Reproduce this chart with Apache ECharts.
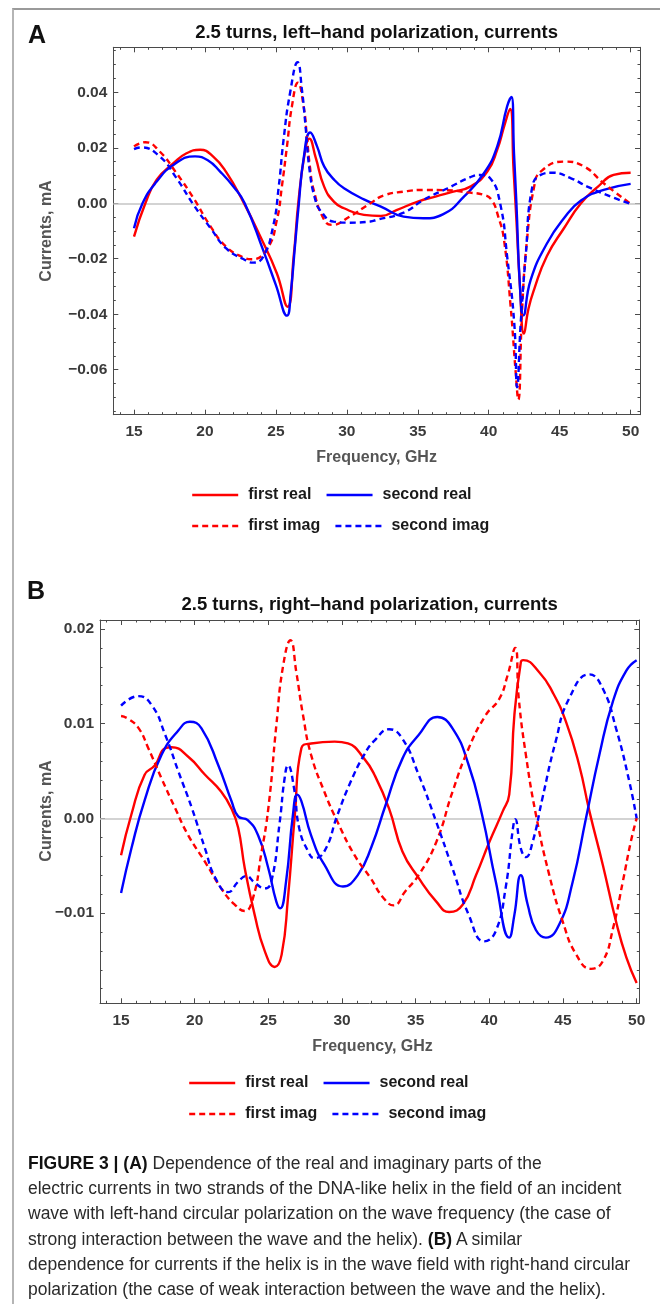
<!DOCTYPE html>
<html>
<head>
<meta charset="utf-8">
<script src="https://cdn.jsdelivr.net/npm/echarts@6/dist/echarts.min.js"></script>
<style>
  html, body { margin: 0; padding: 0; background: #fff; }
  #wrap { position: relative; width: 660px; height: 1304px; overflow: hidden; }
  #frame { position: absolute; left: 12px; top: 8px; width: 660px; height: 1310px;
           border-top: 2px solid #9a9a9a; border-left: 2px solid #b5b5b5; }
  #chart { position: absolute; left: 0; top: 0; width: 660px; height: 1304px; }
  #caption { position: absolute; left: 28px; top: 1151px; width: 625px;
             font-family: "Liberation Sans", Arial, sans-serif; font-size: 17.5px;
             line-height: 25.2px; color: #2a2a2a; white-space: nowrap; }
  #caption b { font-weight: bold; color: #111; }
</style>
</head>
<body>
<div id="wrap">
  <div id="frame"></div>
  <div id="chart"></div>
  <div id="caption">
    <div><b>FIGURE 3 | (A)</b> Dependence of the real and imaginary parts of the</div>
    <div>electric currents in two strands of the DNA-like helix in the field of an incident</div>
    <div>wave with left-hand circular polarization on the wave frequency (the case of</div>
    <div>strong interaction between the wave and the helix). <b>(B)</b> A similar</div>
    <div>dependence for currents if the helix is in the wave field with right-hand circular</div>
    <div>polarization (the case of weak interaction between the wave and the helix).</div>
  </div>
</div>
<script>
// ---------- Panel A data (frequency GHz, current mA) ----------
const aFirstReal = [[15,-0.012],[15.8,0],[16.6,0.0085],[17.8,0.0145],[18.7,0.018],[19.66,0.0193],[20.6,0.0167],[21.5,0.0112],[22.7,0.0005],[23.9,-0.012],[25.07,-0.0253],[25.82,-0.0373],[26.25,-0.0193],[26.6,0.0012],[27.07,0.0193],[27.35,0.0233],[27.8,0.0165],[28.4,0.006],[29.1,0.0005],[29.8,-0.0018],[31.2,-0.0042],[32.4,-0.0046],[33.5,-0.0025],[35,0.0006],[36.3,0.0025],[37.5,0.0042],[38.7,0.006],[39.9,0.0114],[40.6,0.0193],[41.1,0.028],[41.5,0.034],[41.75,0.012],[41.95,-0.006],[42.2,-0.03],[42.48,-0.047],[42.8,-0.038],[43.2,-0.031],[44.1,-0.019],[45.3,-0.009],[46.5,0],[47.7,0.006],[48.8,0.0102],[50,0.011]];
const aSecondReal = [[15,-0.009],[15.6,0],[16.6,0.0078],[17.8,0.0139],[19.3,0.0169],[20.2,0.0155],[21.07,0.0114],[22.0,0.006],[22.8,0],[24.1,-0.0169],[25.0,-0.0295],[25.78,-0.0405],[26.05,-0.032],[26.35,-0.015],[26.6,-0.001],[26.95,0.016],[27.42,0.0255],[27.9,0.0205],[28.4,0.0133],[29.1,0.0085],[29.8,0.0054],[31.2,0.0014],[32.4,-0.0012],[34,-0.0048],[35.4,-0.0054],[36.8,-0.0039],[38.25,0.0024],[39.66,0.0108],[40.6,0.0205],[41.3,0.035],[41.6,0.0383],[41.78,0.018],[41.95,0],[42.2,-0.03],[42.44,-0.0404],[42.95,-0.0277],[44.1,-0.0145],[45.3,-0.0054],[46.5,0.001],[48.1,0.0048],[50,0.007]];
const aFirstImag = [[15,0.0205],[15.8,0.022],[16.8,0.0187],[18,0.0108],[19.2,0.0018],[20.4,-0.0084],[21.5,-0.0157],[22.7,-0.0195],[23.3,-0.0202],[24.4,-0.0163],[25.07,-0.006],[25.42,0.006],[25.78,0.0205],[26.13,0.035],[26.55,0.0434],[26.95,0.035],[27.2,0.0229],[27.4,0.013],[27.66,0.0048],[28.4,-0.006],[28.95,-0.0078],[30.2,-0.0048],[31.66,0],[32.6,0.0028],[34,0.0042],[35.5,0.0048],[37,0.0047],[38.5,0.0039],[39.66,0.003],[40.2,0.0012],[40.67,-0.0048],[41.07,-0.013],[41.54,-0.037],[41.9,-0.061],[42.08,-0.0708],[42.36,-0.0373],[42.7,-0.013],[43.2,0.006],[43.66,0.0114],[45.3,0.015],[46.7,0.0133],[48.1,0.0072],[50,-0.0002]];
const aSecondImag = [[15,0.0195],[15.5,0.0201],[16.8,0.0169],[18,0.009],[19.2,-0.0006],[20.4,-0.009],[21.5,-0.0163],[22.7,-0.0201],[23.4,-0.0214],[24.1,-0.0193],[24.8,-0.0084],[25.2,0.006],[25.54,0.0229],[26.0,0.0398],[26.53,0.0508],[26.83,0.041],[27.07,0.0289],[27.4,0.0108],[27.78,0.0012],[28.1,-0.0024],[29.07,-0.0066],[30.2,-0.007],[31.66,-0.0066],[32.1,-0.006],[34,-0.0034],[35.4,0.0012],[37.1,0.0054],[38.7,0.0094],[39.4,0.0102],[40.1,0.009],[40.8,0],[41.3,-0.0193],[41.8,-0.0434],[42.0,-0.0663],[42.25,-0.0434],[42.6,-0.0193],[43.07,0.006],[43.66,0.0102],[44.5,0.011],[45.8,0.009],[46.95,0.006],[48.6,0.0024],[50,-0.0002]];

// ---------- Panel B data ----------
const bFirstReal = [[15,-0.0039],[15.7,0.0004],[16.6,0.0046],[17.3,0.0056],[18.0,0.0074],[18.43,0.0075],[19.56,0.0065],[20.7,0.0046],[21.8,0.0028],[22.5,0.001],[22.95,-0.001],[23.4,-0.0053],[24.07,-0.0102],[24.75,-0.014],[25.43,-0.0157],[25.9,-0.0144],[26.33,-0.0084],[26.8,0.0004],[27.24,0.0074],[27.9,0.0079],[29.5,0.0081],[30.4,0.0079],[31.5,0.0063],[32.2,0.0046],[33.2,0.001],[34.1,-0.0035],[35.2,-0.0063],[36.4,-0.0088],[37.27,-0.0099],[38.2,-0.0091],[39.1,-0.006],[40,-0.0025],[40.9,0.0007],[41.35,0.0025],[41.7,0.0109],[42.14,0.0165],[42.3,0.0167],[43.4,0.0154],[44.3,0.0133],[45.2,0.0102],[46.1,0.0056],[46.8,0.0007],[47.7,-0.0049],[48.6,-0.0109],[49.3,-0.0147],[50,-0.0174]];
const bSecondReal = [[15,-0.0079],[15.7,-0.0032],[16.6,0.0019],[17.75,0.0067],[18.9,0.0093],[19.67,0.0102],[20.46,0.0095],[21.6,0.0056],[22.5,0.0018],[22.95,0.0002],[23.6,-0.0002],[24.3,-0.0018],[25,-0.0053],[25.54,-0.0088],[25.8,-0.0095],[26.2,-0.0067],[26.67,0.0004],[26.96,0.0025],[27.24,0.0018],[27.9,-0.0018],[28.8,-0.0049],[30.06,-0.0072],[31.07,-0.006],[32.0,-0.003],[32.96,0.0014],[34.1,0.0063],[35.2,0.0088],[36.47,0.0107],[37.5,0.0095],[38.6,0.0056],[39.5,0.0004],[40.44,-0.0067],[41.35,-0.0126],[41.7,-0.0102],[42.14,-0.006],[42.6,-0.0091],[43.16,-0.0118],[43.84,-0.0126],[44.75,-0.0112],[45.66,-0.0067],[46.56,0],[47.47,0.0067],[48.38,0.0123],[49.3,0.0156],[50,0.0167]];
const bFirstImag = [[15,0.0108],[15.5,0.0105],[16.2,0.0095],[16.85,0.0074],[17.75,0.0042],[18.66,0.0011],[19.56,-0.0018],[20.7,-0.0046],[21.8,-0.0074],[22.7,-0.0091],[23.4,-0.0098],[23.96,-0.0084],[24.5,-0.0039],[25,0.0011],[25.54,0.0098],[26,0.0161],[26.5,0.0188],[26.9,0.0154],[27.35,0.0109],[27.9,0.0067],[28.8,0.0028],[29.7,-0.0004],[30.85,-0.0039],[31.93,-0.0063],[32.8,-0.0084],[33.5,-0.0092],[34.3,-0.0077],[35.2,-0.006],[36.4,-0.0025],[37.5,0.0028],[38.6,0.0074],[39.76,0.0109],[40.67,0.0126],[41.24,0.0151],[41.75,0.018],[42.0,0.0126],[42.48,0.0067],[43.16,0.0004],[44.07,-0.006],[44.98,-0.0109],[45.9,-0.0144],[46.9,-0.0159],[47.7,-0.0151],[48.4,-0.0116],[49.06,-0.0067],[49.6,-0.0025],[50,0]];
const bSecondImag = [[15,0.0119],[16.17,0.0129],[17.1,0.0119],[18,0.0088],[18.9,0.0049],[19.8,0.0011],[20.7,-0.0032],[21.4,-0.0063],[22.27,-0.0078],[22.95,-0.0067],[23.5,-0.0061],[24.07,-0.0068],[24.75,-0.0074],[25.2,-0.0067],[25.77,-0.0004],[26.1,0.0042],[26.33,0.0056],[26.74,0.0032],[27.1,-0.0011],[27.7,-0.0035],[28.1,-0.0042],[28.8,-0.0035],[29.7,0.0004],[30.6,0.0039],[31.5,0.0067],[32.2,0.0082],[33.2,0.0094],[34.1,0.0084],[35.2,0.0046],[36.4,-0.0004],[37.5,-0.0053],[38.6,-0.0102],[39.65,-0.013],[40.44,-0.0119],[41.1,-0.0074],[41.6,-0.0011],[41.75,-0.0001],[42.14,-0.0032],[42.48,-0.0041],[42.94,-0.0025],[43.6,0.0021],[44.5,0.0081],[45.4,0.0126],[46.8,0.0152],[47.7,0.0137],[48.6,0.0095],[49.5,0.0039],[50,0]];

// ---------- ticks ----------
const xMajorTicks = [15, 20, 25, 30, 35, 40, 45, 50];
const xMinorTicks = [14,16,17,18,19,21,22,23,24,26,27,28,29,31,32,33,34,36,37,38,39,41,42,43,44,46,47,48,49];
const aYMajorTicks = [-0.06, -0.04, -0.02, 0.00, 0.02, 0.04];
const aYMinorTicks = [-0.075,-0.07,-0.065,-0.055,-0.05,-0.045,-0.035,-0.03,-0.025,-0.015,-0.01,-0.005,0.005,0.01,0.015,0.025,0.03,0.035,0.045,0.05,0.055];
const bYMajorTicks = [-0.01, 0.00, 0.01, 0.02];
const bYMinorTicks = [-0.018,-0.016,-0.014,-0.012,-0.008,-0.006,-0.004,-0.002,0.002,0.004,0.006,0.008,0.012,0.014,0.016,0.018,0.020];

const seriesNames = ['first real', 'second real', 'first imag', 'second imag'];
const titles = ['2.5 turns, left\u2013hand polarization, currents', '2.5 turns, right\u2013hand polarization, currents'];
const xName = 'Frequency, GHz';
const yName = 'Currents, mA';

const RED = '#ff0000', BLUE = '#0000ff';
const FRAME = '#4a4a4a';
const LABEL_FONT = '"Liberation Sans", Arial, sans-serif';

const chart = echarts.init(document.getElementById('chart'), null, { renderer: 'canvas' });

const grids = [
  { left: 113.3, top: 47.3, width: 526.7, height: 367.4 },
  { left: 100, top: 620, width: 539.3, height: 383.3 }
];
const xRanges = [[13.54, 50.66], [13.57, 50.18]];
const yRanges = [[-0.0762, 0.0562], [-0.01954, 0.02094]];
const yMajor = [aYMajorTicks, bYMajorTicks];
const yMinor = [aYMinorTicks, bYMinorTicks];

const fmtY = v => {
  const s = Math.abs(v).toFixed(2);
  return (v < -1e-9 ? '\u2212' : '') + s;
};

const xAxes = [], yAxes = [];
grids.forEach((g, gi) => {
  const base = { type: 'value', gridIndex: gi, min: xRanges[gi][0], max: xRanges[gi][1], splitLine: { show: false } };
  xAxes.push(Object.assign({}, base, {
    position: 'bottom',
    axisLine: { show: true, onZero: false, lineStyle: { color: FRAME, width: 1 } },
    axisTick: { show: true, inside: true, length: 5, customValues: xMajorTicks, lineStyle: { color: FRAME } },
    axisLabel: { show: true, customValues: xMajorTicks, margin: 9, color: '#3a3a3a', fontWeight: 'bold', fontSize: 15.5, fontFamily: LABEL_FONT }
  }));
  xAxes.push(Object.assign({}, base, {
    position: 'bottom',
    axisLine: { show: false, onZero: false },
    axisTick: { show: true, inside: true, length: 2.5, customValues: xMinorTicks, lineStyle: { color: FRAME } },
    axisLabel: { show: false }
  }));
  xAxes.push(Object.assign({}, base, {
    position: 'top',
    axisLine: { show: true, onZero: false, lineStyle: { color: FRAME, width: 1 } },
    axisTick: { show: true, inside: true, length: 5, customValues: xMajorTicks, lineStyle: { color: FRAME } },
    axisLabel: { show: false }
  }));
  xAxes.push(Object.assign({}, base, {
    position: 'top',
    axisLine: { show: false, onZero: false },
    axisTick: { show: true, inside: true, length: 2.5, customValues: xMinorTicks, lineStyle: { color: FRAME } },
    axisLabel: { show: false }
  }));
  const ybase = { type: 'value', gridIndex: gi, min: yRanges[gi][0], max: yRanges[gi][1], splitLine: { show: false } };
  yAxes.push(Object.assign({}, ybase, {
    position: 'left',
    axisLine: { show: true, onZero: false, lineStyle: { color: FRAME, width: 1 } },
    axisTick: { show: true, inside: true, length: 5, customValues: yMajor[gi], lineStyle: { color: FRAME } },
    axisLabel: { show: true, customValues: yMajor[gi], margin: 6, formatter: fmtY, color: '#3a3a3a', fontWeight: 'bold', fontSize: 15.5, fontFamily: LABEL_FONT }
  }));
  yAxes.push(Object.assign({}, ybase, {
    position: 'left',
    axisLine: { show: false, onZero: false },
    axisTick: { show: true, inside: true, length: 2.5, customValues: yMinor[gi], lineStyle: { color: FRAME } },
    axisLabel: { show: false }
  }));
  yAxes.push(Object.assign({}, ybase, {
    position: 'right',
    axisLine: { show: true, onZero: false, lineStyle: { color: FRAME, width: 1 } },
    axisTick: { show: true, inside: true, length: 5, customValues: yMajor[gi], lineStyle: { color: FRAME } },
    axisLabel: { show: false }
  }));
  yAxes.push(Object.assign({}, ybase, {
    position: 'right',
    axisLine: { show: false, onZero: false },
    axisTick: { show: true, inside: true, length: 2.5, customValues: yMinor[gi], lineStyle: { color: FRAME } },
    axisLabel: { show: false }
  }));
});

const panelData = [
  [aFirstReal, aSecondReal, aFirstImag, aSecondImag],
  [bFirstReal, bSecondReal, bFirstImag, bSecondImag]
];
const styles = [
  { color: RED, type: 'solid' },
  { color: BLUE, type: 'solid' },
  { color: RED, type: [6, 4] },
  { color: BLUE, type: [6, 4] }
];

const series = [];
panelData.forEach((arr, gi) => {
  arr.forEach((data, si) => {
    const s = {
      type: 'line',
      name: seriesNames[si],
      xAxisIndex: gi * 4,
      yAxisIndex: gi * 4,
      data: data,
      smooth: 0.5,
      symbol: 'none',
      showSymbol: false,
      clip: true,
      animation: false,
      itemStyle: { color: styles[si].color },
      lineStyle: { color: styles[si].color, width: 2.4, type: styles[si].type },
      z: 3 + si
    };
    if (si === 0) {
      s.markLine = {
        silent: true, symbol: 'none', label: { show: false },
        lineStyle: { color: '#c4c4c4', width: 1.5, type: 'solid' },
        data: [{ yAxis: 0 }],
        animation: false,
        z: 1
      };
    }
    series.push(s);
  });
});

const legendText = { color: '#1a1a1a', fontWeight: 'bold', fontSize: 16, fontFamily: LABEL_FONT, padding: [0, 0, 0, 5] };
const legendBase = {
  orient: 'horizontal', itemWidth: 46, itemHeight: 12, itemGap: 14,
  textStyle: legendText, selectedMode: false,
  itemStyle: { opacity: 0 },
  lineStyle: { width: 2.4 }
};
const legends = [
  Object.assign({}, legendBase, { data: ['first real', 'second real'], left: 186, top: 482 }),
  Object.assign({}, legendBase, { data: ['first imag', 'second imag'], left: 186, top: 513 }),
  Object.assign({}, legendBase, { data: ['first real', 'second real'], left: 183, top: 1070 }),
  Object.assign({}, legendBase, { data: ['first imag', 'second imag'], left: 183, top: 1101 })
];

const titleFont = 'bold 18.5px "Liberation Sans", Arial, sans-serif';
const nameFont = 'bold 16px "Liberation Sans", Arial, sans-serif';
const graphic = [
  { type: 'text', x: 28, y: 36, style: { text: 'A', font: 'bold 25px "Liberation Sans", Arial, sans-serif', fill: '#111', verticalAlign: 'middle' } },
  { type: 'text', x: 376.6, y: 33, style: { text: titles[0], font: titleFont, fill: '#111', align: 'center', verticalAlign: 'middle' } },
  { type: 'text', x: 376.6, y: 458, style: { text: xName, font: nameFont, fill: '#555', align: 'center', verticalAlign: 'middle' } },
  { type: 'text', x: 47, y: 231, rotation: Math.PI / 2, style: { text: yName, font: nameFont, fill: '#555', align: 'center', verticalAlign: 'middle' } },
  { type: 'text', x: 27, y: 592, style: { text: 'B', font: 'bold 25px "Liberation Sans", Arial, sans-serif', fill: '#111', verticalAlign: 'middle' } },
  { type: 'text', x: 369.6, y: 605, style: { text: titles[1], font: titleFont, fill: '#111', align: 'center', verticalAlign: 'middle' } },
  { type: 'text', x: 372.5, y: 1047, style: { text: xName, font: nameFont, fill: '#555', align: 'center', verticalAlign: 'middle' } },
  { type: 'text', x: 47, y: 811, rotation: Math.PI / 2, style: { text: yName, font: nameFont, fill: '#555', align: 'center', verticalAlign: 'middle' } }
];

chart.setOption({
  animation: false,
  grid: grids,
  xAxis: xAxes,
  yAxis: yAxes,
  legend: legends,
  series: series,
  graphic: graphic
});
</script>
</body>
</html>
